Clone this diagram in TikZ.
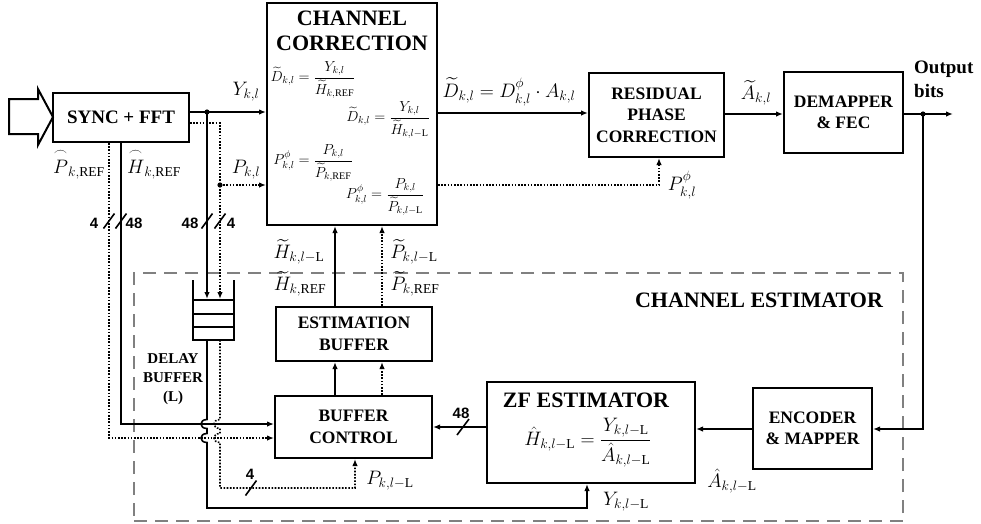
\RequirePackage{fix-cm}
\documentclass[tikz,border=0pt]{standalone}
\usepackage{amsmath}
\usepackage{fontspec}
\setmainfont{Liberation Serif}
\newfontfamily\numfamily{Liberation Sans}
\usetikzlibrary{arrows.meta}

% type sizes (1pt = one unit of the drawing grid)
\newcommand\fBig{\fontsize{22}{25}\selectfont\bfseries}
\newcommand\fBox{\fontsize{17.5}{21.5}\selectfont\bfseries}
\newcommand\fSync{\fontsize{19}{21}\selectfont\bfseries}
\newcommand\fDel{\fontsize{15}{19}\selectfont\bfseries}
\newcommand\fOut{\fontsize{19}{24}\selectfont\bfseries}
\newcommand\fNum{\fontsize{15}{17}\selectfont\numfamily\bfseries}
\newcommand\fLab{\fontsize{19.5}{22}\selectfont}
\newcommand\fEq{\fontsize{14.5}{16}\selectfont}

\tikzset{
  box/.style={draw, line width=2pt, inner sep=0pt, align=center},
  conn/.style={line width=1.6pt},
  dotc/.style={line width=1.6pt, dash pattern=on 1.6pt off 1.6pt},
  arr/.style={-{Latex[length=7pt,width=5.5pt]}},
  lab/.style={inner sep=0pt, font=\fLab},
  eqn/.style={inner sep=0pt, font=\fEq},
  num/.style={inner sep=0pt, font=\fNum},
  estframe/.style={draw=gray, line width=2pt, dash pattern=on 13pt off 8pt, inner sep=0pt},
  dot/.style={fill=black}
}

\begin{document}
\begin{tikzpicture}[x=1pt,y=-1pt]
\useasboundingbox (0,0) rectangle (981,523);

% channel estimator frame
\node[estframe, minimum width=769pt, minimum height=248pt] (est) at (518.5,397) {};
\node[inner sep=0pt, font=\fBig] (esttitle) at (759,300) {CHANNEL ESTIMATOR};

% blocks
\node[box, font=\fSync, minimum width=136pt, minimum height=49pt] (sync) at (121,117.5) {SYNC + FFT};
\node[box, minimum width=170pt, minimum height=222pt] (cc) at (352,114) {};
\node[box, font=\fBox, minimum width=135pt, minimum height=84pt] (rpc) at (656.5,115) {RESIDUAL\\PHASE\\CORRECTION};
\node[box, font=\fBox, minimum width=119pt, minimum height=81pt] (dem) at (843.5,112.5) {DEMAPPER\\\& FEC};
\node[box, font=\fBox, minimum width=119pt, minimum height=81pt] (enc) at (812.5,428.5) {ENCODER\\\& MAPPER};
\node[box, minimum width=208pt, minimum height=101pt] (zf) at (591,432.5) {};
\node[box, font=\fBox, minimum width=157pt, minimum height=62pt] (bc) at (353.5,427) {BUFFER\\CONTROL};
\node[box, font=\fBox, minimum width=156pt, minimum height=54pt] (eb) at (354,334) {ESTIMATION\\BUFFER};

% channel correction contents
\node[inner sep=0pt, font=\fBig, align=center] (cctitle) at (352,30.5) {CHANNEL\\CORRECTION};
\node[eqn] (f1) at (313,80) {$\widetilde{D}_{k,l}=\dfrac{Y_{k,l}}{\widetilde{H}_{k,\mathrm{REF}}}$};
\node[eqn] (f2) at (388,120) {$\widetilde{D}_{k,l}=\dfrac{Y_{k,l}}{\widetilde{H}_{k,l-\mathrm{L}}}$};
\node[eqn] (f3) at (313,163) {$P^{\phi}_{k,l}=\dfrac{P_{k,l}}{\widetilde{P}_{k,\mathrm{REF}}}$};
\node[eqn] (f4) at (385,197) {$P^{\phi}_{k,l}=\dfrac{P_{k,l}}{\widetilde{P}_{k,l-\mathrm{L}}}$};

% zero-forcing estimator contents
\node[inner sep=0pt, font=\fBig] (zftitle) at (586,400) {ZF ESTIMATOR};
\node[lab] (zfeq) at (588,443) {$\hat{H}_{k,l-\mathrm{L}}=\dfrac{Y_{k,l-\mathrm{L}}}{\hat{A}_{k,l-\mathrm{L}}}$};

% delay buffer (open-top stack)
\draw[line width=1.8pt] (193,280) -- (193,340) -- (234,340) -- (234,280);
\draw[line width=1.8pt] (193,300) -- (234,300) (193,314) -- (234,314) (193,327) -- (234,327);
\node[inner sep=0pt, font=\fDel, align=center] (dblab) at (173,379) {DELAY\\BUFFER\\(L)};
\coordinate (dbin1) at (207,299);
\coordinate (dbin2) at (220,299);
\coordinate (dbout1) at (207,340);
\coordinate (dbout2) at (220,340);

% input arrow
\draw[line width=2pt, line join=miter] (9,99) -- (38,99) -- (38,89) -- (53,117) -- (38,145) -- (38,134) -- (9,134) -- cycle;

% front end to channel correction and delay buffer
\coordinate (d1) at (207,112);
\coordinate (d2) at (220,185);
\draw[conn, arr] (sync.east |- d1) -- (cc.west |- d1);
\draw[conn, arr] (d1) -- (dbin1);
\draw[dotc, arr] ([yshift=-5.5pt]sync.east) -| (dbin2);
\draw[dotc, arr] (d2) -- (cc.west |- d2);
\fill[dot] (d1) circle (2.6);
\fill[dot] (d2) circle (2.6);
\node[lab] (ylab) at (246,92) {$Y_{k,l}$};
\node[lab] (plab) at (246,170) {$P_{k,l}$};

% reference estimates from the front end
\coordinate (hs) at (121,424);
\coordinate (ps) at (109,438);
\draw[conn, arr] (sync.south -| hs) -- (hs) -- (bc.west |- hs);
\draw[dotc, arr] (sync.south -| ps) -- (ps) -- (bc.west |- ps);
\node[lab] (phat) at (79,164) {$\overset{\frown}{P}_{k,\mathrm{REF}}$};
\node[lab] (hhat) at (154,164) {$\overset{\frown}{H}_{k,\mathrm{REF}}$};

% bus width marks
\foreach \x in {109,121,207,220} \draw[conn] (\x-5.5,228.5) -- (\x+5.5,213.5);
\node[num] (n4a) at (94,223) {4};
\node[num] (n48a) at (134,223) {48};
\node[num] (n48b) at (190,223) {48};
\node[num] (n4b) at (231,223) {4};

% delayed samples with line hops
\coordinate (xz) at (587,0);
\coordinate (xq) at (355,0);
\draw[conn, arr] (dbout1) -- (207,419.5) .. controls (199,419.5) and (199,428.5) .. (207,428.5)
  -- (207,433.5) .. controls (199,433.5) and (199,442.5) .. (207,442.5) -- (207,508) -| (zf.south -| xz);
\draw[dotc, arr] (dbout2) -- (220,419.5) .. controls (212,419.5) and (212,428.5) .. (220,428.5)
  -- (220,433.5) .. controls (212,433.5) and (212,442.5) .. (220,442.5) -- (220,488) -| (bc.south -| xq);
\draw[conn] (245.5,495.5) -- (256.5,480.5);
\node[num] (n4c) at (250,474) {4};
\node[lab] (pll) at (390,481) {$P_{k,l-\mathrm{L}}$};
\node[lab] (yll) at (626,502) {$Y_{k,l-\mathrm{L}}$};

% buffer control to estimation buffer to channel correction
\coordinate (xs) at (335,0);
\coordinate (xd) at (382,0);
\draw[conn, arr] (bc.north -| xs) -- (eb.south -| xs);
\draw[dotc, arr] (bc.north -| xd) -- (eb.south -| xd);
\draw[conn, arr] (eb.north -| xs) -- (cc.south -| xs);
\draw[dotc, arr] (eb.north -| xd) -- (cc.south -| xd);
\node[lab] (hl1) at (299,252) {$\widetilde{H}_{k,l-\mathrm{L}}$};
\node[lab] (hl2) at (300,284) {$\widetilde{H}_{k,\mathrm{REF}}$};
\node[lab] (pl1) at (414,252) {$\widetilde{P}_{k,l-\mathrm{L}}$};
\node[lab] (pl2) at (415,284) {$\widetilde{P}_{k,\mathrm{REF}}$};

% channel correction to residual phase correction
\coordinate (ya) at (0,113);
\coordinate (xp) at (659,0);
\draw[conn, arr] (cc.east |- ya) -- (rpc.west |- ya);
\draw[dotc, arr] (cc.east |- d2) -| (rpc.south -| xp);
\node[lab] (dlab) at (509,92) {$\widetilde{D}_{k,l}=D^{\phi}_{k,l}\cdot A_{k,l}$};
\node[lab] (philab) at (682,185) {$P^{\phi}_{k,l}$};

% demapping and output
\coordinate (yo) at (0,114);
\coordinate (d3) at (923,114);
\coordinate (outend) at (953,114);
\draw[conn, arr] (rpc.east |- yo) -- (dem.west |- yo);
\draw[conn, arr] (dem.east |- yo) -- (outend);
\fill[dot] (d3) circle (2.6);
\node[lab] (alab) at (756,93) {$\widetilde{A}_{k,l}$};
\node[inner sep=0pt, font=\fOut, align=left, anchor=west] (outlab) at (914,79) {Output\\bits};

% decision feedback loop
\coordinate (yf) at (0,429);
\coordinate (yb) at (0,427);
\draw[conn, arr] (d3) |- (enc.east |- yf);
\draw[conn, arr] (enc.west |- yf) -- (zf.east |- yf);
\draw[conn, arr] (zf.west |- yb) -- (bc.east |- yb);
\draw[conn] (457,435) -- (469,419);
\node[num] (n48c) at (461,413) {48};
\node[lab] (alll) at (732,481) {$\hat{A}_{k,l-\mathrm{L}}$};
\end{tikzpicture}
\end{document}
